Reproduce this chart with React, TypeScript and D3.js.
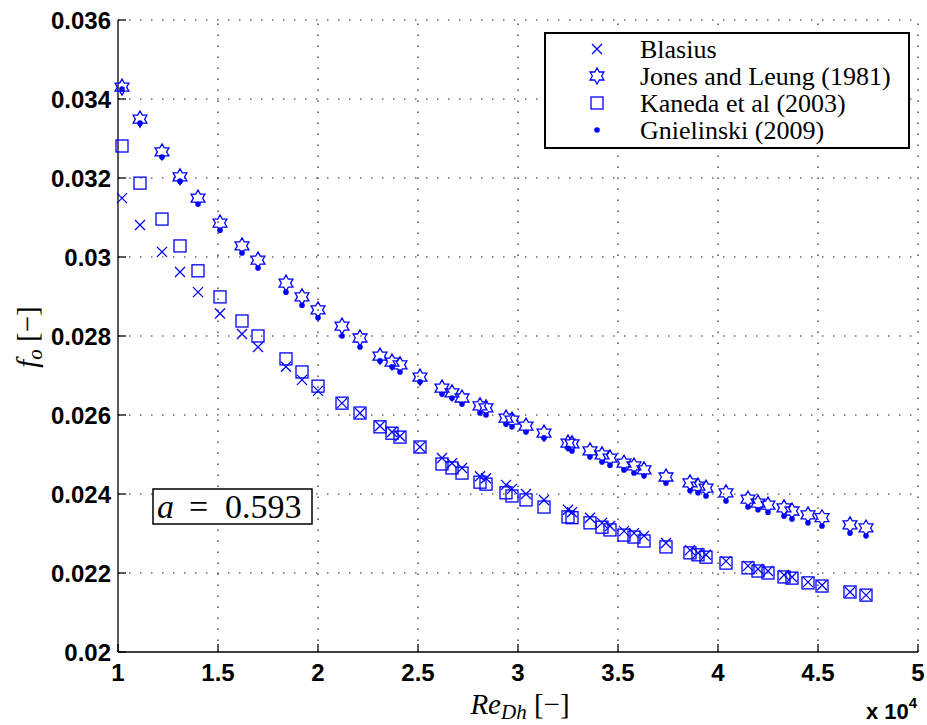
import { useEffect, useRef } from 'react';
import * as d3 from 'd3';

// Reynolds number (x 10^4), shared by all four correlations
const reDh = [
  1.02, 1.11, 1.22, 1.31, 1.40, 1.51, 1.62, 1.70, 1.84, 1.92, 2.00, 2.12,
  2.21, 2.31, 2.37, 2.41, 2.51, 2.62, 2.67, 2.72, 2.81, 2.84, 2.94, 2.97,
  3.04, 3.13, 3.25, 3.27, 3.36, 3.42, 3.46, 3.53, 3.58, 3.63, 3.74, 3.86,
  3.90, 3.94, 4.04, 4.15, 4.20, 4.25, 4.33, 4.37, 4.45, 4.52, 4.66, 4.74,
];

const blasius = [
  0.03149, 0.03081, 0.03013, 0.02962, 0.02911, 0.02857, 0.02805, 0.02772,
  0.02722, 0.02689, 0.02661, 0.0263, 0.02605, 0.02572, 0.02557, 0.02546,
  0.02519, 0.02491, 0.02478, 0.02466, 0.02445, 0.0244, 0.02423, 0.02413,
  0.024, 0.02385, 0.0236, 0.02354, 0.0234, 0.02327, 0.02319, 0.02306,
  0.02301, 0.02294, 0.02276, 0.02258, 0.02251, 0.02246, 0.0223, 0.02218,
  0.0221, 0.02205, 0.02195, 0.0219, 0.02177, 0.02169, 0.02152, 0.02144,
];

const jonesLeung = [
  0.0343, 0.03349, 0.03266, 0.03203, 0.03149, 0.03086, 0.03028, 0.02992,
  0.02934, 0.02899, 0.02866, 0.02825, 0.02795, 0.02749, 0.02734, 0.02727,
  0.02696, 0.02668, 0.02656, 0.02643, 0.02623, 0.02618, 0.02592, 0.02587,
  0.02572, 0.02554, 0.02529, 0.02527, 0.02509, 0.02499, 0.02491, 0.02478,
  0.02471, 0.02461, 0.02443, 0.02428, 0.0242, 0.02415, 0.02403, 0.02387,
  0.02377, 0.02372, 0.02365, 0.02357, 0.02347, 0.0234, 0.02322, 0.02314,
];

const kaneda = [
  0.03281, 0.03187, 0.03096, 0.03028, 0.02965, 0.02899, 0.02838, 0.028,
  0.02742, 0.02709, 0.02673, 0.0263, 0.02605, 0.0257, 0.02554, 0.02544,
  0.02519, 0.02476, 0.02466, 0.02453, 0.0243, 0.02425, 0.02403, 0.02395,
  0.02385, 0.02367, 0.02342, 0.0234, 0.02327, 0.02316, 0.02309, 0.02296,
  0.02291, 0.02281, 0.02266, 0.02251, 0.02246, 0.0224, 0.02225, 0.02213,
  0.02205, 0.022, 0.0219, 0.02187, 0.02175, 0.02167, 0.02152, 0.02144,
];

const gnielinski = [
  0.03425, 0.03339, 0.03253, 0.03192, 0.03134, 0.03068, 0.0301, 0.02972,
  0.02911, 0.02878, 0.02846, 0.028, 0.02772, 0.02737, 0.02722, 0.02709,
  0.02684, 0.02653, 0.02643, 0.02628, 0.02605, 0.026, 0.02577, 0.0257,
  0.02557, 0.02542, 0.02516, 0.02509, 0.02494, 0.02481, 0.02473, 0.02461,
  0.02453, 0.02446, 0.02428, 0.02408, 0.02403, 0.02395, 0.02382, 0.02367,
  0.0236, 0.02354, 0.02344, 0.02337, 0.02327, 0.02319, 0.02301, 0.02294,
];

const xTicks = [1, 1.5, 2, 2.5, 3, 3.5, 4, 4.5, 5];
const xTickLabels = ['1', '1.5', '2', '2.5', '3', '3.5', '4', '4.5', '5'];
const yTicks = [0.02, 0.022, 0.024, 0.026, 0.028, 0.03, 0.032, 0.034, 0.036];
const yTickLabels = ['0.02', '0.022', '0.024', '0.026', '0.028', '0.03', '0.032', '0.034', '0.036'];

const legendNames = ['Blasius', 'Jones and Leung (1981)', 'Kaneda et al (2003)', 'Gnielinski (2009)'];

const BLUE = '#0000ff';

// hexagram outline, pointing up
const star = (R) => {
  const r = R / Math.sqrt(3);
  const pts = d3.range(12).map(i => [i * Math.PI / 6, i % 2 === 0 ? R : r]);
  return d3.lineRadial().curve(d3.curveLinearClosed)(pts);
};

const drawMarker = (g, kind) => {
  if (kind === 'x') {
    g.append('path').attr('d', 'M-5,-5L5,5M-5,5L5,-5')
      .attr('stroke', BLUE).attr('stroke-width', 1.3).attr('fill', 'none');
  } else if (kind === 'star') {
    g.append('path').attr('d', star(8))
      .attr('stroke', BLUE).attr('stroke-width', 1.3).attr('fill', 'none');
  } else if (kind === 'square') {
    g.append('rect').attr('x', -6).attr('y', -6).attr('width', 12).attr('height', 12)
      .attr('stroke', BLUE).attr('stroke-width', 1.3).attr('fill', 'none');
  } else {
    g.append('circle').attr('r', 2.8).attr('fill', BLUE);
  }
};

const App = () => {
  const svgRef = useRef();

  useEffect(() => {
    const svg = d3.select(svgRef.current);
    svg.selectAll('*').remove();

    const x = d3.scaleLinear().domain([1, 5]).range([118, 918]);
    const y = d3.scaleLinear().domain([0.02, 0.036]).range([652, 20]);

    // dotted grid
    const grid = svg.append('g')
      .attr('stroke', '#222')
      .attr('stroke-width', 1.2)
      .attr('stroke-dasharray', '1.5,9.5');
    grid.selectAll('.gx').data(xTicks.slice(1)).enter().append('line')
      .attr('x1', d => x(d)).attr('x2', d => x(d))
      .attr('y1', y(0.02)).attr('y2', y(0.036));
    grid.selectAll('.gy').data(yTicks.slice(1)).enter().append('line')
      .attr('x1', x(1)).attr('x2', x(5))
      .attr('y1', d => y(d)).attr('y2', d => y(d));

    // axes lines and inward ticks
    const axes = svg.append('g').attr('stroke', '#000').attr('stroke-width', 1.3);
    axes.append('line').attr('x1', x(1)).attr('x2', x(1)).attr('y1', y(0.036)).attr('y2', y(0.02));
    axes.append('line').attr('x1', x(1)).attr('x2', x(5)).attr('y1', y(0.02)).attr('y2', y(0.02));
    axes.selectAll('.ty').data(yTicks).enter().append('line')
      .attr('x1', x(1)).attr('x2', x(1) + 8)
      .attr('y1', d => y(d)).attr('y2', d => y(d));
    axes.selectAll('.tx').data(xTicks).enter().append('line')
      .attr('x1', d => x(d)).attr('x2', d => x(d))
      .attr('y1', y(0.02)).attr('y2', y(0.02) - 8);

    // tick labels
    const tickFont = (sel) => sel
      .attr('font-family', '"Liberation Sans", Arial, sans-serif')
      .attr('font-weight', 'bold')
      .attr('font-size', 24)
      .attr('fill', '#000');
    svg.append('g').selectAll('text').data(yTicks).enter().append('text')
      .call(tickFont)
      .attr('x', 111).attr('y', d => y(d))
      .attr('text-anchor', 'end')
      .attr('dominant-baseline', 'central')
      .text((d, i) => yTickLabels[i]);
    svg.append('g').selectAll('text').data(xTicks).enter().append('text')
      .call(tickFont)
      .attr('x', d => x(d)).attr('y', 672)
      .attr('text-anchor', 'middle')
      .attr('dominant-baseline', 'central')
      .text((d, i) => xTickLabels[i]);

    // x 10^4
    const mult = svg.append('text').call(tickFont).attr('font-size', 22)
      .attr('x', 866).attr('y', 719);
    mult.append('tspan').text('x 10');
    mult.append('tspan').attr('font-size', 15).attr('dy', -11).text('4');

    // axis labels
    const serif = '"Liberation Serif", "Times New Roman", serif';
    const xl = svg.append('text').attr('font-family', serif).attr('font-size', 29)
      .attr('x', 520).attr('y', 714).attr('text-anchor', 'middle');
    xl.append('tspan').attr('font-style', 'italic').text('Re');
    xl.append('tspan').attr('font-style', 'italic').attr('font-size', 21).attr('dy', 5).text('Dh');
    xl.append('tspan').attr('dy', -5).text(' [\u2212]');

    const yl = svg.append('text').attr('font-family', serif).attr('font-size', 29)
      .attr('text-anchor', 'middle')
      .attr('transform', 'translate(37,337) rotate(-90)');
    yl.append('tspan').attr('font-style', 'italic').text('f');
    yl.append('tspan').attr('font-style', 'italic').attr('font-size', 21).attr('dy', 5).text('o');
    yl.append('tspan').attr('dy', -5).text(' [\u2212]');

    // series
    const series = [
      { kind: 'x', values: blasius },
      { kind: 'star', values: jonesLeung },
      { kind: 'square', values: kaneda },
      { kind: 'dot', values: gnielinski },
    ];
    series.forEach(s => {
      svg.append('g').selectAll('g').data(s.values).enter().append('g')
        .attr('transform', (d, i) => `translate(${x(reDh[i])},${y(d)})`)
        .each(function () { drawMarker(d3.select(this), s.kind); });
    });

    // legend
    const leg = svg.append('g');
    leg.append('rect').attr('x', 545).attr('y', 33).attr('width', 364).attr('height', 115)
      .attr('fill', '#fff').attr('stroke', '#000').attr('stroke-width', 2);
    const rowY = d3.scalePoint().domain(legendNames).range([49, 130]);
    legendNames.forEach((name, i) => {
      const g = leg.append('g').attr('transform', `translate(597,${rowY(name)})`);
      drawMarker(g, series[i].kind);
      leg.append('text').attr('x', 640).attr('y', rowY(name))
        .attr('dominant-baseline', 'central')
        .attr('font-family', serif).attr('font-size', 26)
        .text(name);
    });

    // annotation
    const ann = svg.append('g');
    ann.append('rect').attr('x', 153).attr('y', 489).attr('width', 159).attr('height', 35)
      .attr('fill', '#fff').attr('stroke', '#000').attr('stroke-width', 1.5);
    const at = ann.append('text').attr('font-family', serif).attr('font-size', 34)
      .attr('y', 518);
    at.append('tspan').attr('x', 157).attr('font-style', 'italic').text('a');
    at.append('tspan').attr('x', 189).text('=');
    at.append('tspan').attr('x', 225).text('0.593');
  }, []);

  return (
    <svg ref={svgRef} width={927} height={725}
      style={{ position: 'absolute', left: 0, top: 0, background: '#fff' }} />
  );
};

export default App;
